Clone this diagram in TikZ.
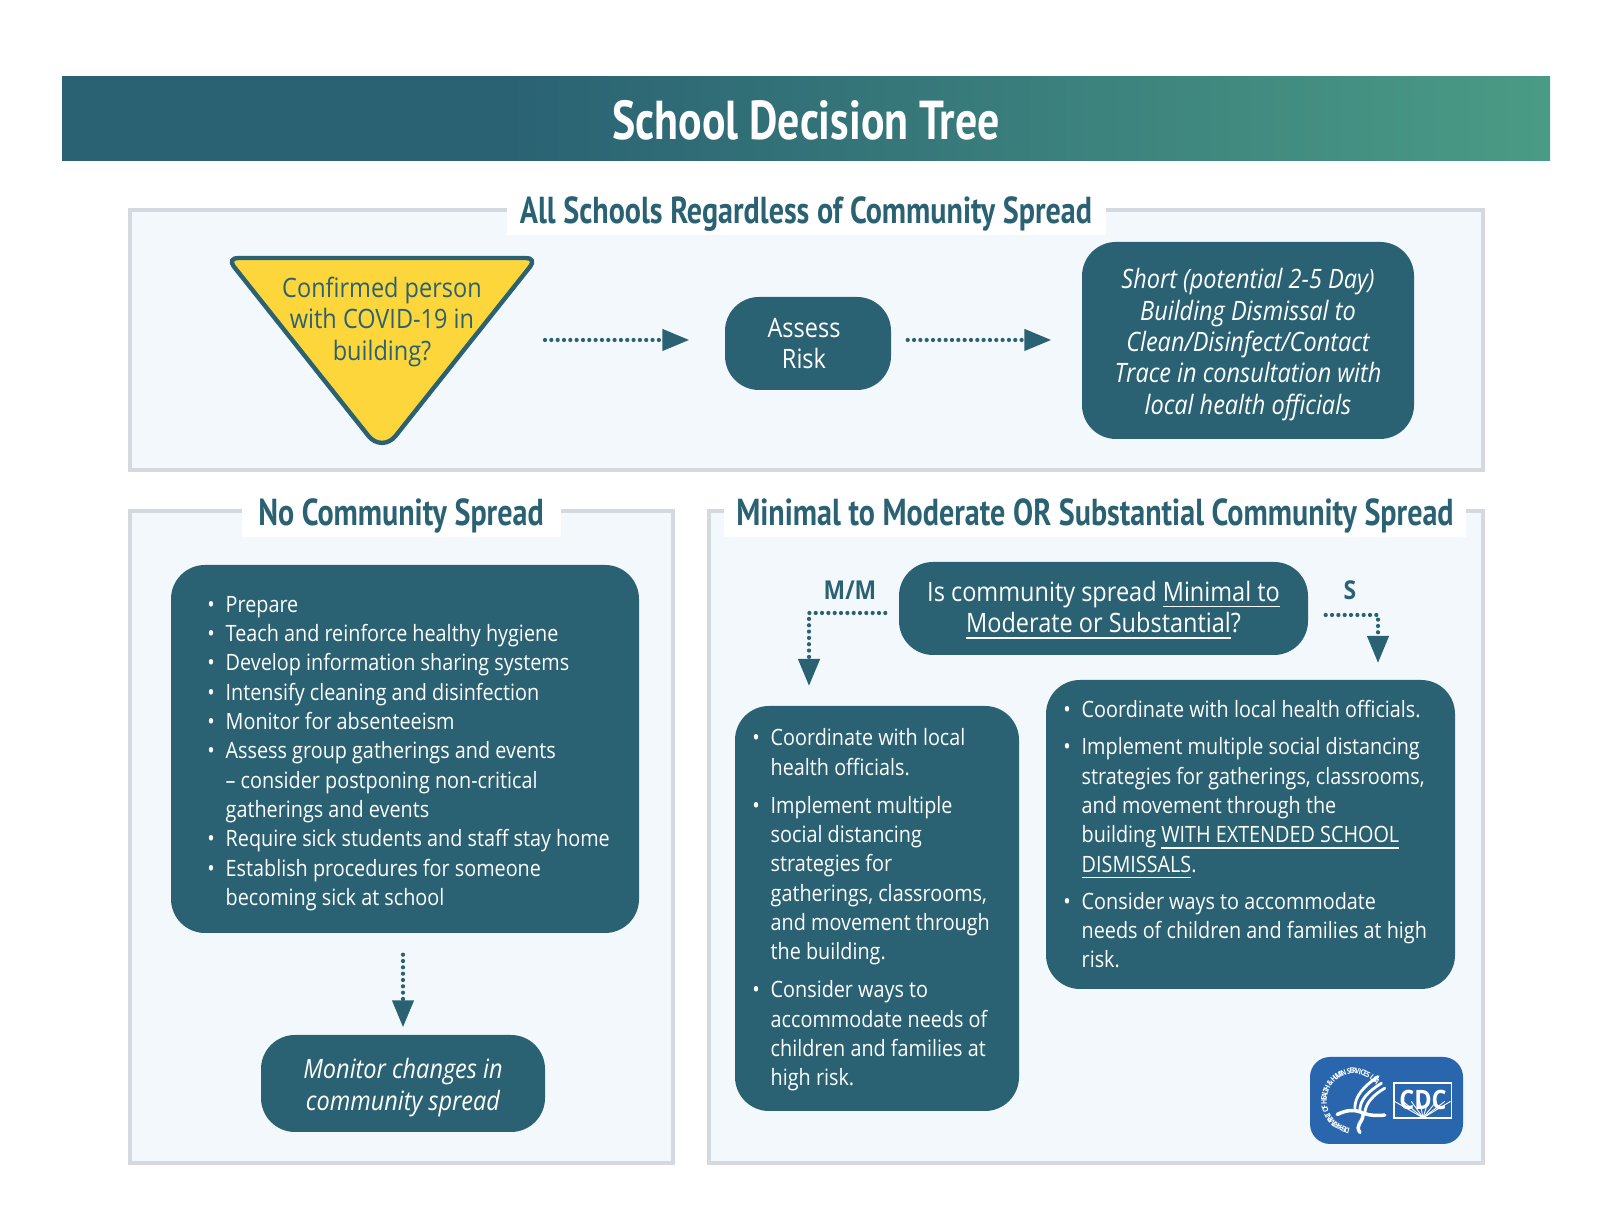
\documentclass[tikz,border=0pt]{standalone}
\usepackage{fontspec}
\usepackage{xcolor}
\setmainfont[FakeStretch=0.88]{Open Sans}
\newfontfamily\headfont[FakeStretch=0.8]{PT Sans}
\definecolor{cdcteal}{RGB}{42,98,115}
\definecolor{cdcgreen}{RGB}{74,155,133}
\definecolor{cdcyellow}{RGB}{253,214,59}
\definecolor{panelfill}{RGB}{243,248,252}
\definecolor{panelline}{RGB}{211,217,223}
\definecolor{logoblue}{RGB}{42,102,174}
\usetikzlibrary{arrows.meta, positioning, calc}
\pgfdeclarehorizontalshading{bannerfade}{100bp}{color(0bp)=(cdcteal); color(40bp)=(cdcteal); color(75bp)=(cdcgreen); color(100bp)=(cdcgreen)}
\tikzset{
  panel/.style={fill=panelfill, draw=panelline, line width=1pt},
  panellabel/.style={fill=white, inner sep=0pt, minimum height=.43cm, text=cdcteal, font=\headfont\bfseries\fontsize{10.7}{12}\selectfont},
  tealbox/.style={fill=cdcteal, text=white, rounded corners=.34cm, align=center, inner sep=0pt, font=\fontsize{7.6}{8.9}\selectfont},
  listtext/.style={text=white, align=left, inner sep=0pt, anchor=west, font=\fontsize{6.4}{8.34}\selectfont},
  flowarrow/.style={draw=cdcteal, line width=1.2pt, line cap=round, dash pattern=on 0pt off 1.8pt, -{Triangle[length=.27cm, width=.21cm, fill=cdcteal]}},
  choicelabel/.style={text=cdcteal, inner sep=0pt, font=\bfseries\fontsize{7.4}{8}\selectfont},
  ringletter/.style={text=white, inner sep=0pt, font=\bfseries\fontsize{2.2}{3}\selectfont},
}
\newcommand{\bul}{\leavevmode\llap{\textbullet\hspace{3.1pt}}}
\newcommand{\nudge}[1]{\rule{0pt}{#1}}
\begin{document}
\begin{tikzpicture}
  \useasboundingbox (0,0) rectangle (16,12.28);

  % Banner
  \shade[shading=bannerfade] (.62,10.67) rectangle (15.50,11.51);
  \node[text=white, inner sep=0pt, font=\headfont\bfseries\fontsize{15.6}{18}\selectfont] (title) at (8.06,11.08) {School Decision Tree};

  % Panels
  \draw[panel] (1.30,7.58) rectangle (14.83,10.18);
  \draw[panel] (1.30,.65) rectangle (6.73,7.17);
  \draw[panel] (7.09,.65) rectangle (14.83,7.17);
  \node[panellabel, minimum width=5.99cm] (alllabel) at (8.06,10.14) {All Schools Regardless of Community Spread};
  \node[panellabel, minimum width=3.19cm] (nolabel) at (4.01,7.12) {No Community Spread};
  \node[panellabel, minimum width=7.42cm] (spreadlabel) at (10.95,7.12) {Minimal to Moderate OR Substantial Community Spread};

  % Top row
  \draw[fill=cdcyellow, draw=cdcteal, line width=1.25pt, rounded corners=.11cm] (2.27,9.70) -- (5.37,9.70) [rounded corners=.22cm] -- (3.82,7.75) [rounded corners=.11cm] -- cycle;
  \node[text=cdcteal, align=center, inner sep=0pt, font=\fontsize{7.6}{8.9}\selectfont] (confirmed) at (3.82,9.06) {Confirmed person\\with COVID-19 in\\building?};
  \coordinate (confirmedtip) at (5.45,8.88);
  \node[tealbox, minimum width=1.66cm, minimum height=.93cm] (assess) at (8.08,8.845) {\hspace*{-.08cm}Assess\\\hspace*{-.08cm}Risk};
  \node[tealbox, minimum width=3.32cm, minimum height=1.97cm, font=\itshape\fontsize{7.6}{8.9}\selectfont] (dismissal) at (12.48,8.875) {\nudge{8.1pt}Short (potential 2-5 Day)\\Building Dismissal to\\Clean/Disinfect/Contact\\Trace in consultation with\\local health officials};
  \draw[flowarrow, shorten >=.35cm] (confirmedtip) -- (confirmedtip -| assess.west);
  \draw[flowarrow, shorten <=.16cm, shorten >=.30cm] (assess.east |- confirmedtip) -- (dismissal.west |- confirmedtip);

  % No community spread
  \node[tealbox, minimum width=4.68cm, minimum height=3.68cm] (nobox) at (4.05,4.79) {};
  \node[listtext] (nolist) at (2.25,4.745) {\bul Prepare\\
    \bul Teach and reinforce healthy hygiene\\
    \bul Develop information sharing systems\\
    \bul Intensify cleaning and disinfection\\
    \bul Monitor for absenteeism\\
    \bul Assess group gatherings and events\\
    -- consider postponing non-critical\\
    gatherings and events\\
    \bul Require sick students and staff stay home\\
    \bul Establish procedures for someone\\
    becoming sick at school};
  \node[tealbox, minimum width=2.84cm, minimum height=.97cm, font=\itshape\fontsize{7.6}{8.9}\selectfont] (monitor) at (4.03,1.445) {\nudge{8.1pt}Monitor changes in\\community spread};
  \draw[flowarrow, shorten <=.21cm, shorten >=.07cm] (monitor.north |- nobox.south) -- (monitor.north);

  % Minimal to moderate or substantial
  \node[tealbox, minimum width=4.09cm, minimum height=.93cm] (question) at (11.035,6.195) {\nudge{7pt}Is community spread \underline{Minimal to}\\\underline{Moderate or Substantial}?};
  \node[choicelabel] (mmlabel) at (8.50,6.38) {M/M};
  \node[choicelabel] (slabel) at (13.50,6.38) {S};
  \node[tealbox, minimum width=2.84cm, minimum height=4.05cm] (mmbox) at (8.77,3.195) {};
  \node[listtext] (mmlist) at (7.70,3.18) {\bul Coordinate with local\\
    health officials.\\[2.5pt]
    \bul Implement multiple\\
    social distancing\\
    strategies for\\
    gatherings, classrooms,\\
    and movement through\\
    the building.\\[2.5pt]
    \bul Consider ways to\\
    accommodate needs of\\
    children and families at\\
    high risk.};
  \node[tealbox, minimum width=4.09cm, minimum height=3.09cm] (sbox) at (12.505,3.935) {};
  \node[listtext] (slist) at (10.81,3.935) {\bul Coordinate with local health officials.\\[2.2pt]
    \bul Implement multiple social distancing\\
    strategies for gatherings, classrooms,\\
    and movement through the\\
    building \underline{WITH EXTENDED SCHOOL}\\
    \underline{DISMISSALS}.\\[2.2pt]
    \bul Consider ways to accommodate\\
    needs of children and families at high\\
    risk.};
  \coordinate (mmdrop) at (8.09,5.22);
  \coordinate (sdrop) at (13.78,5.48);
  \draw[flowarrow, shorten <=.13cm, shorten >=.20cm] ([yshift=-.045cm]question.west) -| (mmdrop);
  \draw[flowarrow, shorten <=.17cm, shorten >=.17cm] ([yshift=-.065cm]question.east) -| (sdrop);

  % Logo
  \node[fill=logoblue, rounded corners=.2cm, minimum width=1.53cm, minimum height=.87cm, inner sep=0pt] (logo) at (13.865,1.275) {};
  \foreach \glyph [count=\ringi] in {D,E,P,A,R,T,M,E,N,T,{},O,F,{},H,E,A,L,T,H,{},\&,{},H,U,M,A,N,{},S,E,R,V,I,C,E,S,{},U,S,A}
    \node[ringletter, rotate={172-5.4*\ringi}] (ring\ringi) at ({13.54+.30*cos(262-5.4*\ringi)},{1.27+.30*sin(262-5.4*\ringi)}) {\glyph};
  \begin{scope}[shift={(12.8,1.98)}, x=.00333cm, y=-.00333cm, draw=white, line cap=round]
    % Eagle
    \draw[line width=.8pt] (295,140) .. controls (250,170) and (225,200) .. (225,235);
    \draw[line width=.8pt] (305,160) .. controls (265,185) and (240,210) .. (240,242);
    \draw[line width=.8pt] (315,175) .. controls (280,195) and (258,220) .. (255,248);
    \draw[line width=1pt] (172,254) .. controls (200,240) and (225,238) .. (250,250) .. controls (270,258) and (295,258) .. (315,256);
    \draw[line width=1pt] (250,254) .. controls (248,280) and (225,285) .. (240,308);
    % Wordmark
    \draw[line width=.45pt] (342,160) rectangle (515,265);
    \foreach \rayx in {345,370,395,420,445,470,495,512}
      \draw[line width=.25pt] (430,264) -- (\rayx,215);
  \end{scope}
  \node[text=white, inner sep=0pt, font=\bfseries\fontsize{7.6}{8}\selectfont] (cdcword) at (14.23,1.28) {CDC};
\end{tikzpicture}
\end{document}
